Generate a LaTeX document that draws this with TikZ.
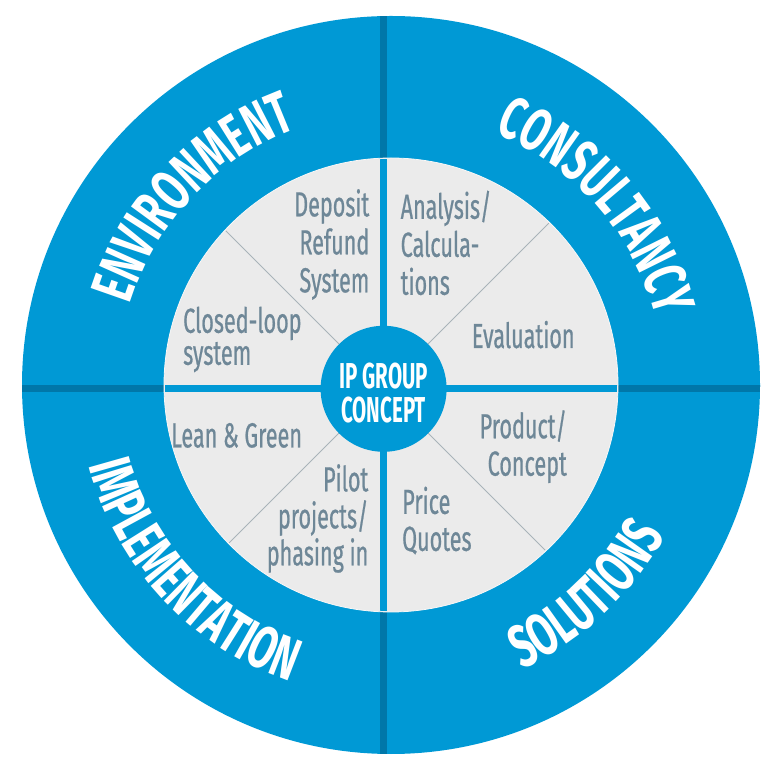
\documentclass[tikz,border=0pt]{standalone}
\usepackage{fontspec}
\usetikzlibrary{decorations.text,calc}
\newfontfamily\ringff[FakeStretch=0.64]{Fira Sans}
\newfontfamily\centff[FakeStretch=0.57]{Fira Sans}
\newfontfamily\innerff[FakeStretch=0.62,FakeBold=0.6]{Fira Sans}
\newcommand\ringtxt{\ringff\bfseries\fontsize{60}{62}\selectfont}
\definecolor{ringblue}{HTML}{0099D5}
\definecolor{darkline}{HTML}{0077A9}
\definecolor{greyfill}{HTML}{EBEBEB}
\definecolor{diagline}{HTML}{A9B3B9}
\definecolor{innertext}{HTML}{6E8797}
\tikzset{
  innerlabel/.style={inner sep=0pt, text=innertext, font=\innerff\fontsize{34.8}{38}\selectfont},
  ringlabel/.style={decorate, decoration={text along path, text align=center, text color=white, text={|\ringtxt|#1}}},
  diagstyle/.style={draw=diagline, line width=0.9pt}
}
\begin{document}
\begin{tikzpicture}[x=1pt,y=1pt]
\useasboundingbox (0,0) rectangle (781,768);
\coordinate (O) at (391,383);
\coordinate (X) at (383.5,379.5);
% outer ring
\fill[ringblue] (O) circle[radius=369pt];
\begin{scope}
  \clip (O) circle[radius=369pt];
  \draw[darkline, line width=7pt] ($(X)+(0,-400)$) -- ($(X)+(0,400)$);
  \draw[darkline, line width=7pt] ($(X)+(-400,0)$) -- ($(X)+(400,0)$);
\end{scope}
% inner disk
\fill[greyfill] (O) circle[radius=227pt];
\begin{scope}
  \clip (O) circle[radius=226pt];
  \draw[ringblue, line width=7pt] ($(X)+(0,-300)$) -- ($(X)+(0,300)$);
  \draw[ringblue, line width=7pt] ($(X)+(-300,0)$) -- ($(X)+(300,0)$);
  \foreach \a in {45,135,225,315} {
    \draw[diagstyle] (X) -- ++(\a:300);
  }
\end{scope}
\draw[white!60!greyfill, line width=0.8pt] (O) circle[radius=227pt];
% centre
\node[circle, fill=ringblue, minimum size=126pt, inner sep=0pt] (c) at (383.6,379.2) {};
\node[anchor=north, inner sep=0pt, text=white, align=center,
      font=\centff\bfseries\fontsize{36}{33.4}\selectfont] (ct) at (383.6,405) {IP GROUP\\CONCEPT};
% ring labels
\path[ringlabel=ENVIRONMENT] (O) ++(181.5:273) arc[start angle=181.5, end angle=91.5, radius=273pt];
\path[ringlabel=CONSULTANCY] (O) ++(86:273) arc[start angle=86, end angle=-4, radius=273pt];
\path[ringlabel=IMPLEMENTATION] (O) ++(178:313) arc[start angle=178, end angle=268, radius=313pt];
\path[ringlabel=SOLUTIONS] (O) ++(268:313) arc[start angle=268, end angle=358, radius=313pt];
% inner labels
\node[innerlabel, anchor=north east, align=right] (dep) at (369.5,579) {Deposit\\Refund\\System};
\node[innerlabel, anchor=north west, align=left] (ana) at (400.5,577.5) {Analysis/\\Calcula-\\tions};
\node[innerlabel, anchor=base west] (eva) at (471.7,420) {Evaluation};
\node[innerlabel, anchor=north west, align=left, font=\innerff\fontsize{34.8}{32}\selectfont] (clo) at (183,461.5) {Closed-loop\\system};
\node[innerlabel, anchor=base west] (lea) at (171,320.6) {Lean \& Green};
\node[innerlabel, anchor=north east, align=right, font=\innerff\fontsize{34.8}{37}\selectfont] (pil) at (368.5,304) {Pilot\\projects/\\phasing in};
\node[innerlabel, anchor=north east, align=right, font=\innerff\fontsize{34.8}{37.4}\selectfont] (pro) at (567,358) {Product/\\Concept};
\node[innerlabel, anchor=north west, align=left, font=\innerff\fontsize{34.8}{37}\selectfont] (pri) at (402,281.5) {Price\\Quotes};
\end{tikzpicture}
\end{document}
